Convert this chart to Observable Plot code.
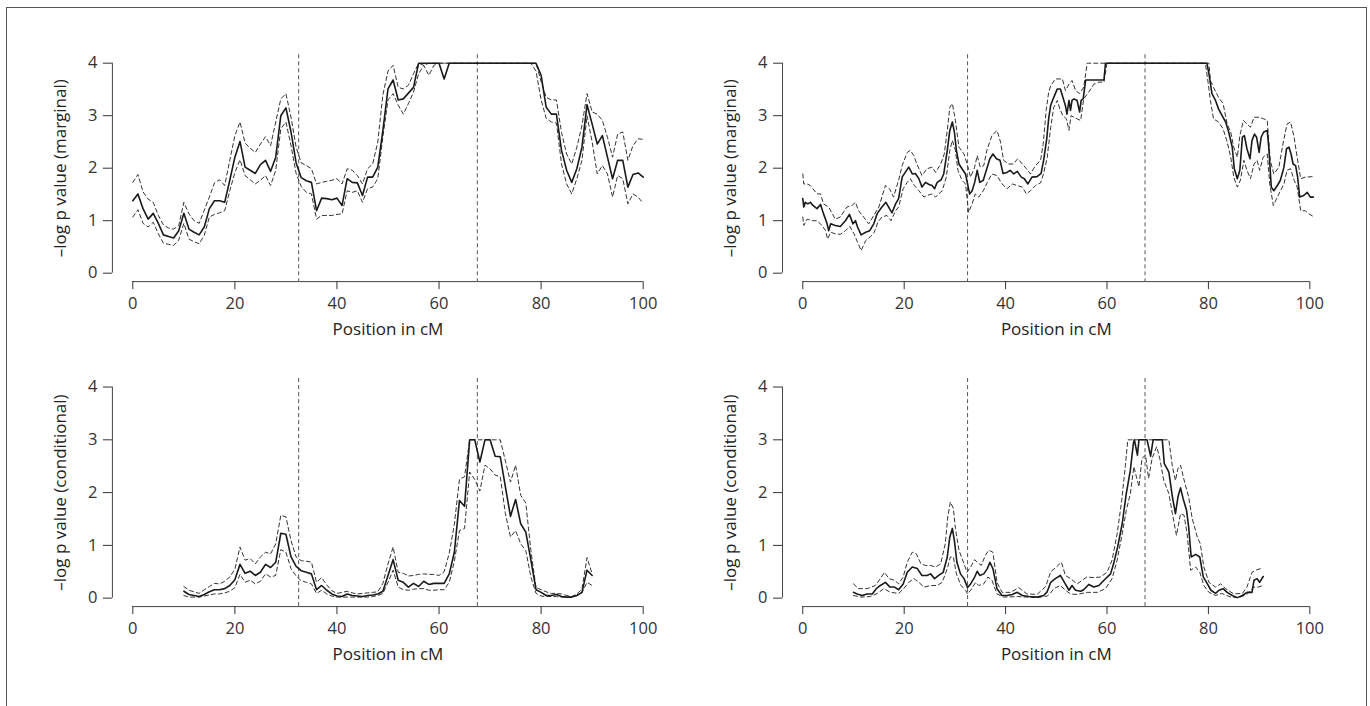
<!DOCTYPE html>
<html><head><meta charset="utf-8">
<script src="https://cdn.jsdelivr.net/npm/d3@7"></script>
<script src="https://cdn.jsdelivr.net/npm/@observablehq/plot@0.6"></script>
<style>
html,body{margin:0;padding:0;background:#fff;}
#fig{position:relative;width:1370px;height:706px;overflow:hidden;font-family:"Open Sans",sans-serif;}
#frame{position:absolute;left:6px;top:6.5px;width:1361px;height:760px;border:1.5px solid #555;box-sizing:border-box;z-index:2;pointer-events:none;}
.panel{position:absolute;z-index:1;}
</style></head><body><div id="fig"><div id="frame"></div></div>
<script>
// ---------- data ----------
const xTicks = [0, 20, 40, 60, 80, 100];
const yTicks = [0, 1, 2, 3, 4];
const qtlMarkers = [32.5, 67.5];
const xTitle = "Position in cM";
const yTitleMarginal = "–log p value (marginal)";
const yTitleConditional = "–log p value (conditional)";

// top-left: marginal, 1 cM grid 0..100
const tlX = d3.range(0, 101);
const tlMean = [1.38,1.51,1.23,1.03,1.14,0.95,0.73,0.70,0.67,0.81,1.14,0.84,0.78,0.73,0.88,1.23,1.38,1.38,1.35,1.77,2.21,2.51,2.02,1.96,1.90,2.07,2.15,1.94,2.21,3.00,3.15,2.69,2.10,1.82,1.76,1.73,1.19,1.43,1.42,1.40,1.43,1.29,1.80,1.73,1.72,1.48,1.83,1.83,2.02,2.72,3.51,3.68,3.30,3.32,3.43,3.54,4,4,4,4,4,3.70,4,4,4,4,4,4,4,4,4,4,4,4,4,4,4,4,4,4,3.77,3.16,3.03,3.03,2.34,1.96,1.73,1.99,2.40,3.21,2.84,2.46,2.62,2.21,1.80,2.15,2.15,1.64,1.88,1.91,1.83];
const tlUpper = [1.73,1.88,1.55,1.41,1.35,1.10,0.92,0.86,0.84,0.91,1.35,1.13,1.00,0.95,1.20,1.45,1.72,1.78,1.67,2.15,2.62,2.88,2.48,2.38,2.30,2.46,2.60,2.43,2.88,3.32,3.42,2.97,2.40,2.10,2.05,1.99,1.70,1.73,1.75,1.77,1.80,1.70,1.99,1.96,1.86,1.70,1.99,2.08,2.50,3.40,3.85,3.96,3.54,3.51,3.58,3.80,4,3.96,4,4,4,4,4,4,4,4,4,4,4,4,4,4,4,4,4,4,4,4,4,4,3.65,3.35,3.30,3.30,2.68,2.27,2.08,2.40,2.81,3.42,3.07,3.03,2.91,2.59,2.21,2.65,2.69,2.15,2.43,2.56,2.55];
const tlLower = [1.07,1.21,0.95,0.88,0.97,0.75,0.57,0.55,0.53,0.63,0.95,0.65,0.60,0.56,0.72,1.07,1.12,1.15,1.19,1.57,1.92,2.16,1.86,1.78,1.70,1.77,1.86,1.67,1.96,2.75,2.88,2.43,1.90,1.65,1.54,1.51,1.03,1.10,1.10,1.10,1.12,1.13,1.57,1.54,1.57,1.35,1.61,1.64,1.80,2.60,3.30,3.42,3.20,3.03,3.23,3.45,3.80,3.96,3.77,3.96,4,4,4,4,4,4,4,4,4,4,4,4,4,4,4,4,4,4,4,3.85,3.30,2.95,2.88,2.86,2.08,1.70,1.51,1.80,2.15,3.00,2.50,1.89,2.05,1.89,1.45,1.86,1.80,1.32,1.51,1.45,1.33];

// bottom-left: conditional, 1 cM grid 10..90
const blX = d3.range(10, 91);
const blMean = [0.13,0.07,0.05,0.03,0.07,0.12,0.16,0.16,0.18,0.24,0.35,0.64,0.47,0.51,0.43,0.49,0.64,0.58,0.68,1.23,1.21,0.78,0.60,0.52,0.49,0.46,0.16,0.24,0.15,0.08,0.04,0.03,0.08,0.05,0.04,0.03,0.05,0.06,0.08,0.13,0.43,0.73,0.34,0.30,0.21,0.28,0.22,0.32,0.26,0.28,0.28,0.28,0.46,0.87,1.85,1.74,3.00,3.00,2.58,3.00,3.00,2.69,2.68,2.11,1.55,1.87,1.41,1.25,0.72,0.16,0.11,0.05,0.05,0.07,0.03,0.02,0.02,0.05,0.11,0.53,0.43];
const blUpper = [0.22,0.15,0.12,0.09,0.16,0.22,0.28,0.27,0.32,0.40,0.55,0.97,0.72,0.75,0.65,0.78,0.87,0.84,1.03,1.57,1.54,1.09,0.78,0.71,0.70,0.68,0.30,0.39,0.25,0.14,0.09,0.11,0.13,0.10,0.08,0.09,0.10,0.11,0.12,0.28,0.65,0.97,0.49,0.47,0.42,0.43,0.45,0.46,0.45,0.45,0.43,0.50,0.85,1.40,2.25,2.30,3.00,3.00,3.00,3.00,3.00,3.00,3.00,2.60,2.20,2.52,1.95,1.80,0.90,0.20,0.16,0.12,0.09,0.09,0.08,0.05,0.03,0.08,0.17,0.77,0.46];
const blLower = [0.05,0.02,0.02,0.02,0.04,0.06,0.08,0.08,0.10,0.13,0.20,0.45,0.30,0.34,0.27,0.32,0.46,0.40,0.43,0.92,0.87,0.56,0.42,0.33,0.30,0.27,0.09,0.15,0.08,0.04,0.02,0.02,0.02,0.02,0.02,0.02,0.02,0.03,0.05,0.09,0.30,0.53,0.21,0.16,0.15,0.17,0.18,0.18,0.15,0.15,0.16,0.16,0.30,0.70,1.28,1.32,2.39,2.25,2.03,2.52,2.45,2.33,2.30,1.60,1.16,1.28,1.03,0.90,0.40,0.09,0.04,0.03,0.03,0.03,0.02,0.02,0.03,0.05,0.10,0.30,0.24];

// top-right: marginal, fine grid [position, value]
const trMean = [[0,1.42],[0.2,1.26],[0.5,1.35],[1,1.32],[1.5,1.35],[2,1.29],[2.8,1.23],[3.5,1.31],[4.1,1.13],[4.8,0.94],[5.1,0.81],[5.5,0.94],[6.4,0.91],[7.4,0.89],[8.4,1.0],[9.2,1.12],[9.9,0.94],[10.4,1.0],[10.8,0.88],[11.5,0.73],[12.4,0.78],[13.2,0.81],[14,0.94],[14.7,1.14],[15.6,1.26],[16.4,1.35],[17.1,1.23],[17.6,1.15],[18.3,1.32],[18.9,1.42],[19.6,1.83],[20.2,1.92],[20.9,2.02],[21.6,1.89],[22.2,1.9],[22.9,1.8],[23.5,1.64],[24.2,1.73],[24.9,1.69],[25.5,1.67],[26,1.61],[26.5,1.73],[27.3,1.78],[27.8,1.89],[28.5,2.34],[29,2.72],[29.5,2.88],[29.9,2.69],[30.3,2.34],[30.8,2.08],[31.4,1.99],[32.1,1.89],[32.5,1.7],[32.9,1.51],[33.4,1.57],[33.9,1.73],[34.4,1.96],[34.9,1.73],[35.6,1.77],[36.2,1.96],[36.9,2.18],[37.5,2.27],[38.2,2.18],[38.9,2.15],[39.5,1.9],[40.3,1.92],[40.9,1.96],[41.6,1.89],[42.3,1.94],[43.1,1.83],[43.7,1.8],[44.4,1.7],[45.2,1.83],[46.2,1.84],[47,1.9],[47.5,2.15],[48.1,2.55],[48.5,2.95],[48.9,3.2],[49.5,3.35],[50.2,3.51],[50.8,3.51],[51.3,3.35],[51.8,3.19],[52.1,3.03],[52.5,3.29],[52.8,3.1],[53.1,3.29],[53.5,3.32],[54.1,3.29],[54.6,3.07],[54.9,3.29],[55.3,3.32],[55.8,3.68],[59.4,3.68],[59.7,4],[79.7,4],[80.1,3.8],[80.7,3.42],[81.4,3.29],[82,3.13],[82.7,3.0],[83.4,2.88],[84,2.69],[84.7,2.4],[85.1,1.99],[85.7,1.8],[86.2,1.96],[86.7,2.59],[87.1,2.62],[87.6,2.37],[88.2,2.18],[88.6,2.53],[89.1,2.65],[89.5,2.59],[90,2.3],[90.4,2.59],[90.9,2.69],[91.6,2.72],[91.9,2.4],[92.4,1.64],[92.9,1.57],[93.6,1.67],[94.2,1.77],[94.9,2.02],[95.4,2.37],[95.9,2.4],[96.3,2.27],[96.7,2.08],[97.2,2.05],[97.6,1.83],[98,1.45],[98.8,1.48],[99.5,1.54],[100.1,1.45],[100.7,1.45]];
const trUpper = [[0,1.89],[0.2,1.7],[0.85,1.7],[1.5,1.67],[2.8,1.51],[3.5,1.51],[4.1,1.32],[5.1,1.26],[6.4,1.03],[7.4,1.07],[8.7,1.26],[9.7,1.29],[10.4,1.35],[11,1.19],[12,1.07],[13,0.94],[14,1.1],[15,1.26],[16.3,1.67],[17.1,1.61],[17.9,1.45],[18.9,1.77],[19.6,2.05],[20.6,2.3],[21.2,2.34],[21.9,2.24],[22.5,2.08],[23.5,1.86],[24.5,1.99],[25.5,2.02],[26.2,1.92],[27.2,2.08],[27.9,2.27],[28.5,2.72],[29,3.16],[29.5,3.23],[30.1,2.91],[30.8,2.4],[31.8,2.27],[32.5,2.05],[33.1,1.83],[33.9,2.02],[34.4,2.24],[35,2.02],[35.7,2.05],[36.3,2.34],[37.3,2.62],[38.3,2.72],[39,2.5],[39.6,2.15],[40.6,2.08],[41.5,2.08],[42.4,2.18],[43.3,2.08],[44.1,1.99],[44.9,1.89],[45.9,2.05],[46.9,2.15],[47.4,2.45],[48,3.1],[48.5,3.45],[48.9,3.57],[49.8,3.7],[51.2,3.7],[51.8,3.48],[52.5,3.6],[53.1,3.67],[53.8,3.48],[54.6,3.42],[55.4,3.54],[56.1,4],[80.1,4],[80.4,3.67],[81,3.54],[82,3.35],[82.9,3.23],[83.7,2.84],[84.4,2.69],[85,2.4],[85.7,2.21],[86.2,2.62],[86.9,2.91],[87.6,2.84],[88.3,2.78],[89,2.97],[90,2.97],[90.9,2.94],[91.6,2.91],[92.2,2.15],[92.9,1.89],[93.9,2.02],[94.7,2.46],[95.5,2.84],[96.2,2.88],[96.9,2.59],[97.5,2.21],[98.2,1.8],[99.1,1.83],[100.7,1.84]];
const trLower = [[0,1.07],[0.2,0.91],[0.85,1.03],[1.8,1.0],[2.8,1.0],[3.8,0.91],[4.5,0.81],[4.9,0.65],[5.5,0.78],[6.4,0.75],[7.4,0.74],[8.4,0.81],[9.3,0.89],[10.1,0.75],[10.8,0.59],[11.5,0.43],[12.4,0.62],[13.3,0.69],[14.1,0.78],[14.8,0.97],[15.6,1.07],[16.6,1.1],[17.4,1.0],[18.3,1.19],[18.9,1.26],[19.8,1.61],[20.6,1.73],[21.2,1.8],[22,1.67],[22.9,1.57],[23.9,1.45],[24.5,1.48],[25.5,1.51],[26.2,1.45],[26.8,1.51],[27.5,1.57],[28.3,1.83],[29,2.34],[29.5,2.53],[30.1,2.34],[30.6,1.96],[31.4,1.77],[32.1,1.7],[32.7,1.16],[33.4,1.32],[34,1.51],[34.7,1.45],[35.6,1.57],[36.4,1.73],[37.3,1.89],[38.3,1.86],[39.3,1.7],[40.3,1.61],[41.3,1.7],[42.3,1.67],[43.3,1.64],[44.1,1.51],[44.9,1.57],[45.9,1.67],[46.9,1.72],[47.5,1.9],[48.2,2.2],[48.9,2.78],[49.5,3.16],[50.2,3.29],[50.7,3.13],[51.3,3.0],[52,2.94],[52.5,2.72],[52.9,3.0],[53.5,2.97],[54.1,2.94],[54.8,2.91],[55.4,3.32],[56.4,3.45],[57.4,3.6],[58.4,3.64],[59.4,3.64],[60,4],[79.4,4],[79.8,3.73],[80.4,3.29],[81,2.94],[82,2.88],[82.9,2.75],[83.7,2.5],[84.4,2.21],[85,1.83],[85.7,1.64],[86.3,1.77],[87,2.15],[87.6,1.96],[88.3,1.8],[89,2.08],[89.6,2.15],[90.1,1.96],[90.8,2.21],[91.6,2.27],[92.1,1.7],[92.8,1.29],[93.6,1.45],[94.2,1.57],[94.9,1.7],[95.5,1.96],[96.2,1.99],[96.9,1.77],[97.5,1.64],[98.2,1.19],[99.1,1.19],[99.8,1.13],[100.7,1.08]];

// bottom-right: conditional, fine grid [position, value]
const brMean = [[10,0.11],[10.7,0.08],[11.7,0.05],[12.7,0.08],[13.7,0.08],[14.5,0.18],[15.3,0.24],[16.3,0.3],[17.2,0.21],[18.1,0.21],[18.9,0.16],[19.8,0.27],[20.6,0.49],[21.6,0.59],[22.6,0.56],[23.5,0.43],[24.5,0.43],[25.2,0.46],[26,0.37],[26.8,0.43],[27.7,0.49],[28.5,0.78],[29,1.16],[29.5,1.32],[29.9,1.09],[30.4,0.68],[31.1,0.46],[31.8,0.37],[32.5,0.2],[33.1,0.27],[33.9,0.4],[34.4,0.51],[34.9,0.43],[35.7,0.46],[36.4,0.56],[36.9,0.68],[37.5,0.56],[38.3,0.18],[39.3,0.05],[40.3,0.05],[41.3,0.07],[42.3,0.11],[43.3,0.05],[44.6,0.03],[46.2,0.02],[47.5,0.05],[48.2,0.12],[48.9,0.3],[49.8,0.37],[50.8,0.43],[51.6,0.3],[52.5,0.15],[53.1,0.24],[53.8,0.15],[54.8,0.13],[55.4,0.16],[56.4,0.26],[57.4,0.21],[58.4,0.24],[59.4,0.34],[60.7,0.46],[61.3,0.65],[62.1,0.97],[63,1.41],[63.8,1.98],[64.6,2.42],[65.2,2.93],[65.4,3],[66,2.71],[66.3,3],[67.9,3],[68.6,2.69],[69.1,3],[70.9,3],[71.3,2.55],[72.2,2.39],[72.9,1.92],[73.5,1.6],[74,1.92],[74.5,2.09],[75,1.89],[75.7,1.66],[76.1,1.35],[76.6,0.78],[77.5,0.83],[78.3,0.78],[79,0.4],[79.8,0.27],[80.5,0.15],[81.4,0.09],[82.1,0.15],[82.9,0.18],[83.7,0.11],[84.7,0.05],[85.7,0.01],[86.7,0.05],[87.6,0.11],[88.6,0.11],[89,0.34],[89.6,0.37],[90.1,0.3],[90.8,0.41]];
const brUpper = [[10,0.27],[11,0.18],[12.7,0.18],[14.3,0.24],[15.3,0.37],[16.1,0.49],[17,0.37],[18.1,0.34],[18.9,0.27],[19.8,0.4],[20.6,0.68],[21.6,0.87],[22.4,0.84],[23.3,0.65],[24.2,0.62],[25.2,0.62],[26.2,0.59],[27.2,0.65],[28.1,1.03],[28.6,1.54],[29.1,1.82],[29.7,1.7],[30.1,1.32],[30.8,0.91],[31.8,0.65],[32.4,0.49],[33.1,0.59],[33.9,0.73],[34.4,0.68],[35.2,0.62],[36,0.81],[36.7,0.91],[37.5,0.87],[38.3,0.3],[39.3,0.11],[41,0.11],[42.6,0.2],[44.2,0.08],[46.2,0.07],[47.9,0.22],[48.9,0.5],[50,0.59],[51,0.68],[51.8,0.43],[52.8,0.37],[54.1,0.27],[56,0.4],[57.4,0.39],[58.7,0.4],[60,0.49],[61,0.72],[62,1.22],[62.9,1.85],[63.6,2.49],[64.1,3],[72.2,3],[72.9,2.49],[73.5,2.23],[74,2.46],[74.5,2.52],[75.3,2.2],[76.1,1.92],[76.8,1.51],[77.8,1.16],[78.4,1.03],[79.1,0.59],[80.1,0.3],[81.4,0.21],[82.4,0.27],[83.4,0.18],[85,0.08],[86.7,0.09],[87.6,0.21],[88.6,0.49],[89.6,0.54],[90.3,0.56]];
const brLower = [[10,0.05],[11.4,0.02],[13.3,0.03],[14.7,0.09],[16,0.18],[17.3,0.11],[18.9,0.09],[19.9,0.18],[20.9,0.3],[21.9,0.37],[22.9,0.3],[23.9,0.21],[25.2,0.24],[26.5,0.24],[27.5,0.3],[28.5,0.56],[29.1,0.78],[29.7,0.78],[30.3,0.46],[31.2,0.24],[32.1,0.15],[32.5,0.08],[33.1,0.15],[34.1,0.3],[34.7,0.24],[35.7,0.27],[36.5,0.4],[37.3,0.34],[38.3,0.08],[39.6,0.02],[42.3,0.03],[46.2,0.01],[48.2,0.04],[48.9,0.1],[49.5,0.18],[50.8,0.24],[51.8,0.15],[52.8,0.08],[54.1,0.07],[56.1,0.11],[58.1,0.11],[59.7,0.18],[61,0.37],[62,0.72],[63,1.22],[63.8,1.66],[64.6,1.98],[65.3,2.49],[65.8,2.3],[66.3,2.11],[66.9,2.65],[67.6,2.71],[68.2,2.27],[68.9,2.65],[69.8,2.87],[70.4,2.65],[71.2,2.23],[72.2,1.98],[72.9,1.6],[73.7,1.19],[74.5,1.6],[75.2,1.57],[75.8,1.22],[76.5,0.53],[77.5,0.59],[78.3,0.49],[79.1,0.24],[80.1,0.11],[81.4,0.05],[82.6,0.09],[84.4,0.02],[86,0.01],[87.6,0.07],[88.9,0.21],[89.9,0.21],[90.8,0.24]];

// ---------- drawing ----------
const xDomain = [-4, 104];
const yDomain = [-0.16, 4.16];
const FONT = "'Open Sans', 'DejaVu Sans', sans-serif";
const pair = (xs, ys) => xs.map((x, i) => [x, ys[i]]);

function panel(o) {
  const chart = Plot.plot({
    width: o.w, height: o.h,
    marginLeft: o.mL, marginRight: o.mR, marginTop: o.mT, marginBottom: o.mB,
    x: {domain: xDomain, axis: null},
    y: {domain: yDomain, axis: null},
    style: {fontFamily: FONT, background: "transparent", overflow: "visible", color: "#222"},
    marks: [
      Plot.ruleX(qtlMarkers, {stroke: "#555", strokeWidth: 1, strokeDasharray: "4,3"}),
      Plot.line(o.lower, {x: d => d[0], y: d => d[1], stroke: "#333", strokeWidth: 1, strokeDasharray: "4,3"}),
      Plot.line(o.upper, {x: d => d[0], y: d => d[1], stroke: "#333", strokeWidth: 1, strokeDasharray: "4,3"}),
      Plot.line(o.mean, {x: d => d[0], y: d => d[1], stroke: "#1a1a1a", strokeWidth: 1.6}),
      Plot.ruleY([yDomain[0]], {x1: xTicks[0], x2: xTicks[xTicks.length - 1], stroke: "#444", strokeWidth: 1}),
      Plot.ruleX([xDomain[0]], {y1: yTicks[0], y2: yTicks[yTicks.length - 1], stroke: "#444", strokeWidth: 1}),
      Plot.axisX(xTicks, {tickSize: 8, tickPadding: 8, fontSize: 16.5, color: "#333", label: null, tickFormat: d3.format("d")}),
      Plot.axisY(yTicks, {tickSize: 9, tickPadding: 6, fontSize: 16.5, color: "#333", label: null, tickFormat: d3.format("d")}),
      Plot.text([xTitle], {text: d => d, frameAnchor: "bottom", dy: 48, fontSize: 17, fill: "#222", lineAnchor: "middle", textAnchor: "middle"}),
      Plot.text([o.yTitle], {text: d => d, frameAnchor: "left", dx: -52, rotate: -90, fontSize: 17, fill: "#222", lineAnchor: "middle", textAnchor: "middle"})
    ]
  });
  chart.classList.add("panel");
  chart.style.left = o.left + "px";
  chart.style.top = o.top + "px";
  document.getElementById("fig").appendChild(chart);
}

const W = 685, H = 353;
panel({left: 0, top: 0, w: W, h: H, mL: 111.9, mR: W - 663.1, mT: 54.3, mB: H - 281.1,
  yTitle: yTitleMarginal, mean: pair(tlX, tlMean), upper: pair(tlX, tlUpper), lower: pair(tlX, tlLower)});
panel({left: W, top: 0, w: W, h: H, mL: 782.0 - W, mR: 1370 - 1329.6, mT: 54.3, mB: H - 281.1,
  yTitle: yTitleMarginal, mean: trMean, upper: trUpper, lower: trLower});
panel({left: 0, top: H, w: W, h: H, mL: 111.9, mR: W - 663.1, mT: 378.1 - H, mB: 706 - 606.1,
  yTitle: yTitleConditional, mean: pair(blX, blMean), upper: pair(blX, blUpper), lower: pair(blX, blLower)});
panel({left: W, top: H, w: W, h: H, mL: 782.0 - W, mR: 1370 - 1329.6, mT: 378.1 - H, mB: 706 - 606.1,
  yTitle: yTitleConditional, mean: brMean, upper: brUpper, lower: brLower});
</script></body></html>
